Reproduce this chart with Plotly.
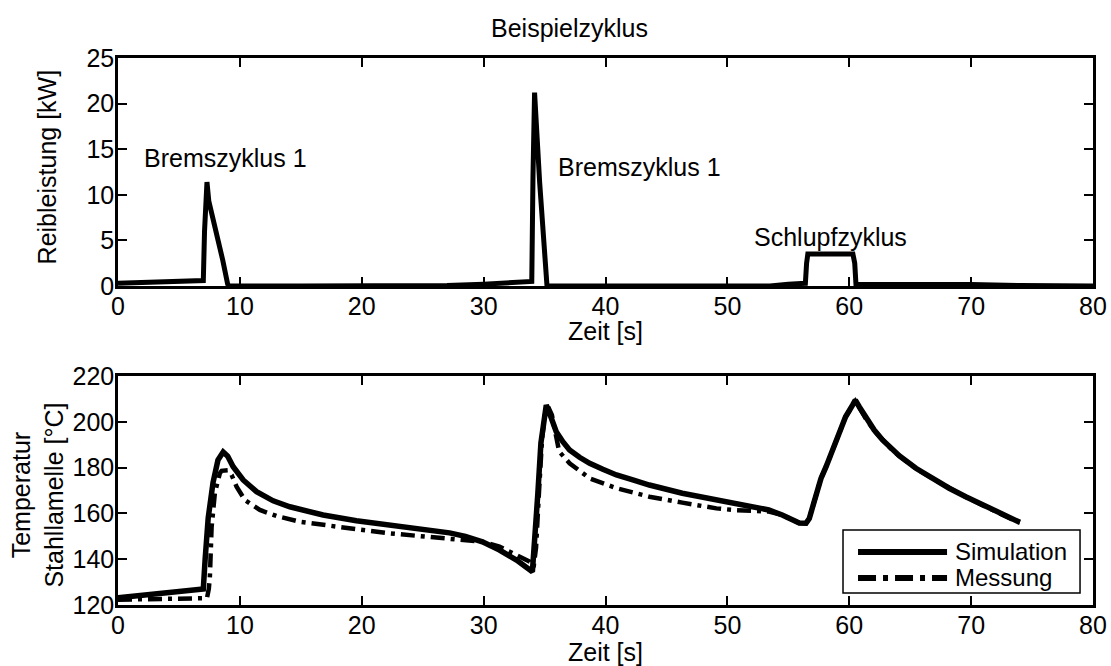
import plotly.graph_objects as go

# ---- Data: friction power (top) ----
t_power = [0, 3, 6, 7.0, 7.1, 7.2, 7.3, 7.45, 8.1, 8.6, 9.0, 9.1, 15, 20, 27, 30, 32, 33.95,
           34.05, 34.18, 34.6, 35.1, 35.2, 40, 50, 53.5, 55, 56.4, 56.5, 56.6, 60.3, 60.45,
           60.55, 62, 66, 70, 74, 76, 80]
p_power = [0.3, 0.45, 0.55, 0.6, 6.0, 11.0, 11.4, 9.3, 5.8, 2.8, 0.2, 0.0, 0.0, 0.0, 0.05, 0.2, 0.35, 0.5,
           12.0, 21.2, 11.3, 0.2, 0.0, 0.0, 0.0, 0.0, 0.2, 0.3, 2.5, 3.5, 3.5, 2.5,
           0.2, 0.2, 0.15, 0.15, 0.05, 0.0, 0.0]

# ---- Data: steel plate temperature (bottom) ----
t_sim = [0, 2, 4, 6, 7.0, 7.15, 7.4, 7.8, 8.2, 8.63, 9.0, 9.45, 10.27, 11.37, 12.73, 14.1, 16.83,
         19.56, 22.3, 23.66, 25.0, 27.2, 28.5, 29.9, 31.3, 32.7, 34.0, 34.2, 34.45, 34.7, 34.95,
         35.14, 35.41, 35.96, 36.5, 37.05, 37.87, 38.7, 39.78, 40.9, 42.24, 43.6, 46.3, 49.1, 51.8,
         53.4, 54.5, 55.9, 56.45, 56.72, 57.0, 57.3, 57.68, 58.1, 58.9, 59.7, 60.27, 60.5, 60.82,
         61.37, 62.05, 62.73, 63.42, 64.1, 65.47, 66.83, 68.2, 69.56, 70.93, 72.3, 73.8, 74.0]
T_sim = [123.2, 124.2, 125.2, 126.2, 127, 140, 158, 173.5, 183.3, 186.8, 185, 180.4, 174.6, 169.5,
         165.5, 162.9, 159.3, 156.8, 154.9, 153.9, 153.2, 151.5, 150, 147.6, 144, 139.6, 134.5,
         148, 168.8, 190.7, 203, 207.3, 203.7, 195.7, 191.3, 187.7, 184.5, 181.9, 179.3, 176.8,
         174.6, 172.4, 168.8, 165.9, 163.2, 161.5, 159.3, 155.8, 155.7, 157.8, 162.9, 168.8, 175.3,
         180.4, 192, 202.2, 207.3, 209.5, 206.6, 201.5, 196.4, 192.1, 188.4, 185.2, 179.7, 175.3,
         171, 167.3, 163.7, 160, 156.4, 156.1]

t_mes = [0, 2, 4, 6, 7.3, 7.45, 7.54, 7.68, 7.95, 8.36, 8.5, 9.0, 9.32, 9.73, 10.4, 11.64, 13.0,
         14.9, 16.83, 19.56, 22.3, 23.66, 25.0, 27.2, 29.9, 31.3, 32.7, 33.8, 34.1, 34.3, 34.55,
         34.8, 35.05, 35.3, 35.6, 36.2, 37.05, 38.7, 40.9, 43.6, 46.3, 49.1, 50.5, 52.0, 53.4,
         54.5, 55.9, 56.45, 56.72, 57.0, 57.3, 57.68, 58.1, 58.9, 59.7, 60.27, 60.5, 60.82, 61.37,
         62.05, 62.73, 63.42, 64.1, 65.47, 66.83, 68.2, 69.56, 70.93, 72.3, 73.8, 74.0]
T_mes = [122.3, 122.5, 122.6, 122.7, 123, 127, 132.4, 154, 169, 177.6, 178.6, 178.8, 176.8, 171.7,
         165.9, 161.5, 158.9, 156.4, 154.9, 153.1, 151.3, 150.6, 150.2, 149.1, 147.6, 145.5, 141.8,
         138.9, 136.5, 145, 170, 193, 204, 206.5, 203, 187, 181.9, 175.3, 171, 167.3, 164.7, 162.2,
         161.5, 161.2, 160.8, 159.3, 155.8, 155.7, 157.8, 162.9, 168.8, 175.3, 180.4, 192, 202.2,
         207, 209, 206.3, 201.3, 196.2, 192, 188.3, 185.1, 179.6, 175.2, 170.9, 167.2, 163.6,
         159.9, 156.3, 156]

series_names = ["Simulation", "Messung"]
x_ticks = [0, 10, 20, 30, 40, 50, 60, 70, 80]
y1_ticks = [0, 5, 10, 15, 20, 25]
y2_ticks = [120, 140, 160, 180, 200, 220]

FONT = "Liberation Sans, Arial, sans-serif"
FS = 25
MES_DASH = "14px,6px,4px,6px"

fig = go.Figure()

fig.add_trace(go.Scatter(x=t_power, y=p_power, mode="lines", showlegend=False,
                         line=dict(color="black", width=5), xaxis="x", yaxis="y"))
fig.add_trace(go.Scatter(x=t_sim, y=T_sim, mode="lines", name=series_names[0], showlegend=False,
                         line=dict(color="black", width=5.5), xaxis="x2", yaxis="y2"))
fig.add_trace(go.Scatter(x=t_mes, y=T_mes, mode="lines", name=series_names[1], showlegend=False,
                         line=dict(color="black", width=4.5, dash=MES_DASH),
                         xaxis="x2", yaxis="y2"))

axis_common = dict(showgrid=False, zeroline=False, showline=True, linecolor="black",
                   linewidth=2.5, mirror="ticks", ticks="inside", ticklen=9, tickwidth=2,
                   tickcolor="black", ticklabelstandoff=-4, automargin=False,
                   tickfont=dict(family=FONT, size=FS, color="black"))

fig.update_layout(
    width=1111, height=666,
    margin=dict(l=118, r=18, t=58, b=61, autoexpand=False),
    paper_bgcolor="white", plot_bgcolor="white",
    font=dict(family=FONT, size=FS, color="black"),
    xaxis=dict(domain=[0, 1], anchor="y", range=[0, 80], tickvals=x_ticks, **axis_common),
    yaxis=dict(domain=[0.5832, 1], anchor="x", range=[0, 25], tickvals=y1_ticks, **axis_common),
    xaxis2=dict(domain=[0, 1], anchor="y2", range=[0, 80], tickvals=x_ticks, **axis_common),
    yaxis2=dict(domain=[0, 0.4186], anchor="x2", range=[120, 220], tickvals=y2_ticks, **axis_common),
    showlegend=False,
)

# ---- legend box (drawn to match the compact reference legend) ----
leg_y = [0.0969, 0.0494]
shapes = [
    dict(type="rect", xref="paper", yref="paper", x0=0.7436, x1=0.9867, y0=0.0219, y1=0.1371,
         line=dict(color="black", width=1.5), fillcolor="white", layer="above"),
    dict(type="line", xref="paper", yref="paper", x0=0.7590, x1=0.8503, y0=leg_y[0], y1=leg_y[0],
         line=dict(color="black", width=6), layer="above"),
    dict(type="line", xref="paper", yref="paper", x0=0.7590, x1=0.8503, y0=leg_y[1], y1=leg_y[1],
         line=dict(color="black", width=6, dash="18px,7px,5px,7px"), layer="above"),
]

anns = []
for txt, yy in zip(series_names, leg_y):
    anns.append(dict(text=txt, x=0.8564, y=yy, xref="paper", yref="paper", showarrow=False,
                     font=dict(family=FONT, size=24, color="black"),
                     xanchor="left", yanchor="middle"))

labels = [
    dict(text="Bremszyklus 1", x=8.85, y=14.0),
    dict(text="Bremszyklus 1", x=42.8, y=13.0),
    dict(text="Schlupfzyklus", x=58.5, y=5.4),
]
for a in labels:
    anns.append(dict(text=a["text"], x=a["x"], y=a["y"], xref="x", yref="y", showarrow=False,
                     font=dict(family=FONT, size=FS, color="black"),
                     xanchor="center", yanchor="middle"))

anns.append(dict(text="Beispielzyklus", x=0.4626, y=1, xref="paper", yref="paper", yshift=30,
                 showarrow=False, font=dict(family=FONT, size=FS, color="black"),
                 xanchor="center", yanchor="middle"))
# axis titles
anns.append(dict(text="Zeit [s]", x=0.5, y=0.5832, xref="paper", yref="paper", yshift=-45,
                 showarrow=False, font=dict(family=FONT, size=FS, color="black"),
                 xanchor="center", yanchor="middle"))
anns.append(dict(text="Zeit [s]", x=0.5, y=0, xref="paper", yref="paper", yshift=-47,
                 showarrow=False, font=dict(family=FONT, size=FS, color="black"),
                 xanchor="center", yanchor="middle"))
anns.append(dict(text="Reibleistung [kW]", x=0, y=0.8, xref="paper", yref="paper", xshift=-71,
                 textangle=-90, showarrow=False, font=dict(family=FONT, size=FS, color="black"),
                 xanchor="center", yanchor="middle"))
anns.append(dict(text="Temperatur<br>Stahllamelle [°C]", x=0, y=0.2, xref="paper", yref="paper",
                 xshift=-80, textangle=-90, showarrow=False,
                 font=dict(family=FONT, size=FS, color="black"),
                 xanchor="center", yanchor="middle"))

fig.update_layout(annotations=anns, shapes=shapes)

fig.write_html("out.html")
